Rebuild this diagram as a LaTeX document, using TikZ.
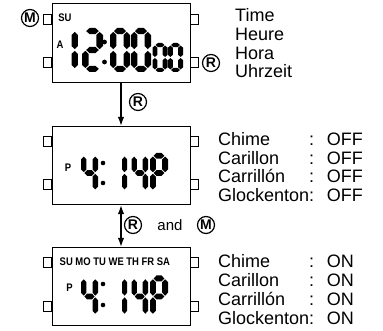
\documentclass[tikz,border=0pt]{standalone}
\usepackage{fontspec}
\setmainfont{Liberation Sans}
\newfontfamily\lcdfont[FakeStretch=0.86]{Liberation Sans Bold}
\usetikzlibrary{arrows.meta}
\tikzset{
  lcd/.style={draw,rectangle,line width=0.8pt,minimum width=138pt,minimum height=78.5pt,inner sep=0pt},
  knob/.style={draw,rectangle,line width=0.6pt,minimum width=8.5pt,minimum height=10pt,inner sep=0pt},
  btn/.style={draw,circle,line width=1.2pt,minimum size=17pt,inner sep=0pt,font=\fontsize{14}{14}\selectfont\bfseries},
  seglab/.style={inner sep=0pt,font=\lcdfont\fontsize{11}{11}\selectfont},
  txt/.style={inner sep=0pt,anchor=base west,font=\fontsize{18}{18.6}\selectfont},
  flow/.style={line width=1.3pt,-{Latex[length=9pt,width=6.5pt]}},
  flowboth/.style={line width=1.3pt,{Latex[length=9pt,width=6.5pt]}-{Latex[length=9pt,width=6.5pt]}},
}
% one segment of a digit, in the unit cell (width 1, height 2)
\newcommand{\hseg}[1]{\fill (0.20,#1) -- (0.36,#1-0.14) -- (0.64,#1-0.14) -- (0.80,#1) -- (0.64,#1+0.14) -- (0.36,#1+0.14) -- cycle;}
\newcommand{\vseg}[3]{\fill (#1,#2+0.04) -- (#1+0.16,#2+0.18) -- (#1+0.16,#3-0.18) -- (#1,#3-0.04) -- (#1-0.16,#3-0.18) -- (#1-0.16,#2+0.18) -- cycle;}
% x, y (top left), width, half height, segments
\newcommand{\lcddigit}[5]{%
  \begin{scope}[shift={(#1,#2)},x=#3pt,y=-#4pt]
    \foreach \s in {#5}{%
      \if a\s \hseg{0.14}\fi
      \if g\s \hseg{1}\fi
      \if d\s \hseg{1.86}\fi
      \if f\s \vseg{0.16}{0.14}{1}\fi
      \if b\s \vseg{0.84}{0.14}{1}\fi
      \if e\s \vseg{0.16}{1}{1.86}\fi
      \if c\s \vseg{0.84}{1}{1.86}\fi
    }
  \end{scope}}

\begin{document}
\begin{tikzpicture}[x=1pt,y=-1pt]
  \useasboundingbox (0,0) rectangle (383,331);
  % displays
  \node[lcd] (lcdA) at (121,43) {};
  \node[lcd] (lcdB) at (121,165.5) {};
  \node[lcd] (lcdC) at (121,286.5) {};
  \node[knob] (kA1) at (47.5,19) {};
  \node[knob] (kA2) at (47.5,62) {};
  \node[knob] (kA3) at (194.5,19) {};
  \node[knob] (kA4) at (194.5,62) {};
  \node[knob] (kB1) at (47.5,141) {};
  \node[knob] (kB2) at (47.5,184) {};
  \node[knob] (kB3) at (194.5,141) {};
  \node[knob] (kB4) at (194.5,184) {};
  \node[knob] (kC1) at (47.5,262) {};
  \node[knob] (kC2) at (47.5,306) {};
  \node[knob] (kC3) at (194.5,262) {};
  \node[knob] (kC4) at (194.5,306) {};
  \node[btn] (mTop) at (30,18) {M};
  \node[btn] (rTop) at (211,63) {R};
  % time 12:00 00
  \node[seglab] (suA) at (65,17.5) {SU};
  \node[seglab] (amA) at (60,44.5) {A};
  \lcddigit{71.5}{28}{20}{22}{f,e}
  \lcddigit{82}{28}{21}{22}{a,b,g,e,d}
  \fill (104.5,42) circle (2.4);
  \fill (104.5,62) circle (2.4);
  \lcddigit{110}{28}{20}{22}{a,b,c,d,e,f}
  \lcddigit{131}{28}{20}{22}{a,b,c,d,e,f}
  \lcddigit{152.5}{43}{15}{14.5}{a,b,c,d,e,f}
  \lcddigit{168}{43}{15}{14.5}{a,b,c,d,e,f}
  % chime off 4:14p
  \node[seglab] (pmB) at (68,167.5) {P};
  \lcddigit{81}{153}{17}{20}{f,g,b,c}
  \fill (103,163) circle (2.3);
  \fill (103,183) circle (2.3);
  \lcddigit{122}{153}{16}{20}{f,e}
  \lcddigit{131.5}{153}{16.5}{20}{f,g,b,c}
  \lcddigit{150}{153}{18}{20}{a,b,f,g,e}
  % chime on 4:14p
  \node[seglab,anchor=west] (days) at (59.5,261.5) {SU MO TU WE TH FR SA};
  \node[seglab] (pmC) at (69.5,288) {P};
  \lcddigit{81}{275.5}{17}{21}{f,g,b,c}
  \fill (103,284) circle (2.3);
  \fill (103,305) circle (2.3);
  \lcddigit{122}{275.5}{16}{21}{f,e}
  \lcddigit{131.5}{275.5}{16.5}{21}{f,g,b,c}
  \lcddigit{150}{275.5}{18}{21}{a,b,f,g,e}
  % connectors
  \draw[flow] (lcdA.south) -- (lcdB.north);
  \node[btn] (rOne) at (138,102) {R};
  \draw[flowboth] (lcdB.south) -- (lcdC.north);
  \node[btn] (rTwo) at (133,225) {R};
  \node[inner sep=0pt,font=\fontsize{15}{15}\selectfont] (andTxt) at (170,225) {and};
  \node[btn] (mTwo) at (206,225) {M};
  % texts
  \node[txt] (tA) at (235,22) {\begin{tabular}[t]{@{}l@{}}Time\\Heure\\Hora\\Uhrzeit\end{tabular}};
  \node[txt] (tB) at (218,145.5) {\begin{tabular}[t]{@{}l@{}l@{}}Chime&:\hspace{0.7em}OFF\\Carillon&:\hspace{0.7em}OFF\\Carrillón&:\hspace{0.7em}OFF\\Glockenton&:\hspace{0.7em}OFF\end{tabular}};
  \node[txt] (tC) at (218,268) {\begin{tabular}[t]{@{}l@{}l@{}}Chime&:\hspace{0.7em}ON\\Carillon&:\hspace{0.7em}ON\\Carrillón&:\hspace{0.7em}ON\\Glockenton&:\hspace{0.7em}ON\end{tabular}};
\end{tikzpicture}
\end{document}
